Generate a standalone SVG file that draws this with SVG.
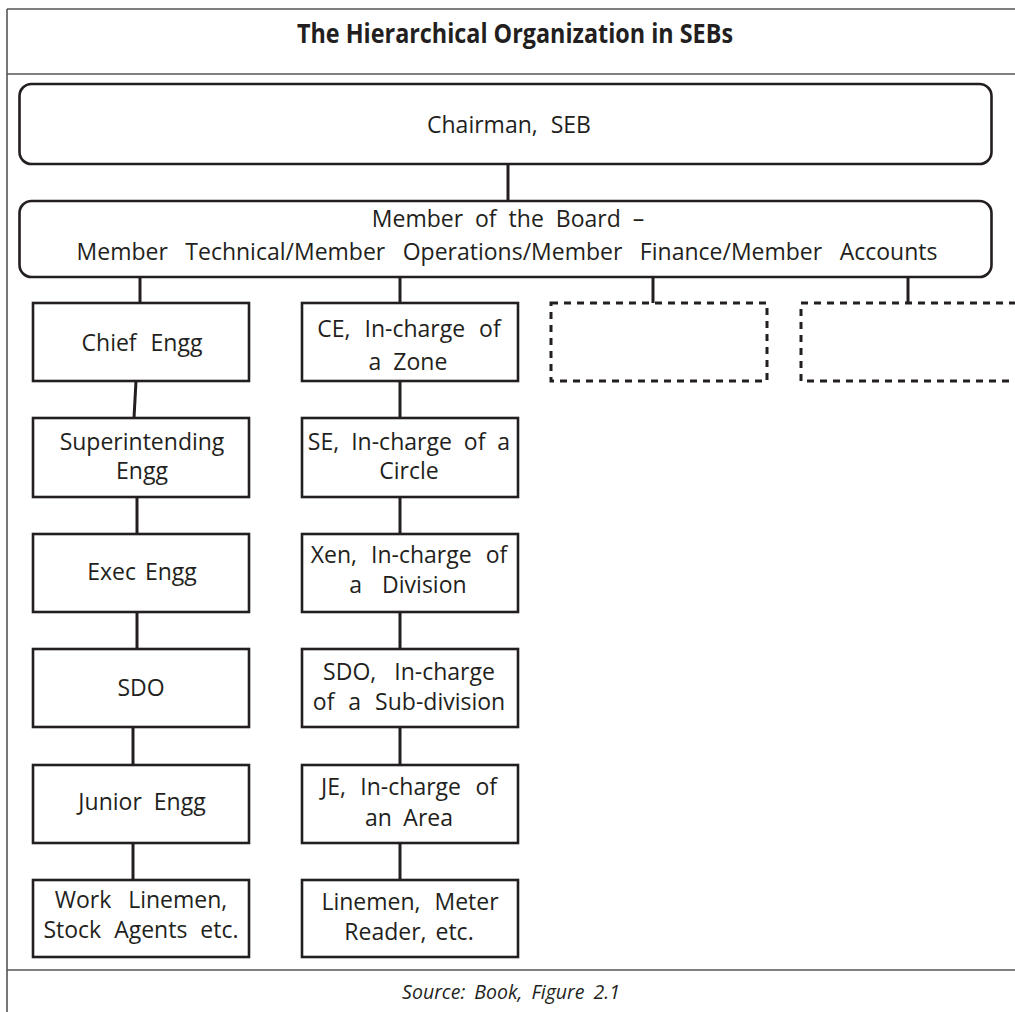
<svg xmlns="http://www.w3.org/2000/svg" width="1015" height="1012" viewBox="0 0 1015 1012">
<defs>
<style>
.frame{stroke:#555;stroke-width:1.6;fill:none}
.box{fill:#fff;stroke:#231f20;stroke-width:2.6}
.dash{fill:none;stroke:#231f20;stroke-width:3;stroke-dasharray:7 6}
.conn line{stroke:#231f20;stroke-width:3}
text{font-family:"Open Sans","Noto Sans",sans-serif;font-size:23px;fill:#231f20;text-anchor:middle}
.title{font-weight:bold;font-size:26px}
.src{font-style:italic;font-size:19.5px}
</style>
</defs>
<rect width="1015" height="1012" fill="#fff"/>
<g id="frame">
<line class="frame" x1="7" y1="9" x2="1015" y2="9"/>
<line class="frame" x1="7" y1="9" x2="7" y2="1012"/>
<line class="frame" x1="7" y1="74" x2="1015" y2="74"/>
<line class="frame" x1="7" y1="970" x2="1015" y2="970"/>
</g>
<text id="title" class="title" x="515" y="43" textLength="436" lengthAdjust="spacingAndGlyphs">The Hierarchical Organization in SEBs</text>
<g class="conn" id="connectors">
<line x1="508" y1="164" x2="508" y2="201"/>
<line x1="140" y1="277" x2="140" y2="303"/>
<line x1="400" y1="277" x2="400" y2="303"/>
<line x1="653" y1="277" x2="653" y2="303"/>
<line x1="908" y1="277" x2="908" y2="303"/>
<line x1="136" y1="381" x2="134" y2="418"/>
<line x1="137" y1="497" x2="137" y2="534"/>
<line x1="137" y1="612" x2="137" y2="649"/>
<line x1="133" y1="727" x2="133" y2="765"/>
<line x1="133" y1="843" x2="133" y2="880"/>
<line x1="400" y1="381" x2="400" y2="418"/>
<line x1="400" y1="497" x2="400" y2="534"/>
<line x1="400" y1="612" x2="400" y2="649"/>
<line x1="400" y1="727" x2="400" y2="765"/>
<line x1="400" y1="843" x2="400" y2="880"/>
</g>
<g id="chairman">
<rect class="box" x="19.5" y="84" width="972" height="80" rx="12"/>
<text x="509" y="133" style="word-spacing:7px">Chairman, SEB</text>
</g>
<g id="board">
<rect class="box" x="19.5" y="201" width="972" height="76" rx="12"/>
<text x="508" y="227" style="word-spacing:6px">Member of the Board –</text>
<text x="507" y="260" style="word-spacing:11.5px">Member Technical/Member Operations/Member Finance/Member Accounts</text>
</g>
<g id="chief-engg">
<rect class="box" x="33" y="303" width="216" height="78"/>
<text x="142" y="351" style="word-spacing:8px">Chief Engg</text>
</g>
<g id="superintending-engg">
<rect class="box" x="33" y="418" width="216" height="79"/>
<text x="142" y="450">Superintending</text>
<text x="142" y="479">Engg</text>
</g>
<g id="exec-engg">
<rect class="box" x="33" y="534" width="216" height="78"/>
<text x="142" y="580" style="word-spacing:3px">Exec Engg</text>
</g>
<g id="sdo">
<rect class="box" x="33" y="649" width="216" height="78"/>
<text x="141" y="696">SDO</text>
</g>
<g id="junior-engg">
<rect class="box" x="33" y="765" width="216" height="78"/>
<text x="142" y="810" style="word-spacing:6px">Junior Engg</text>
</g>
<g id="work-linemen">
<rect class="box" x="33" y="880" width="216" height="77"/>
<text x="141" y="908" style="word-spacing:11px">Work Linemen,</text>
<text x="141" y="938" style="word-spacing:7px">Stock Agents etc.</text>
</g>
<g id="ce-zone">
<rect class="box" x="302" y="303" width="216" height="78"/>
<text x="409" y="337" style="word-spacing:8px">CE, In-charge of</text>
<text x="408" y="370" style="word-spacing:6px">a Zone</text>
</g>
<g id="se-circle">
<rect class="box" x="302" y="418" width="216" height="79"/>
<text x="409" y="450" style="word-spacing:6px">SE, In-charge of a</text>
<text x="409" y="479">Circle</text>
</g>
<g id="xen-division">
<rect class="box" x="302" y="534" width="216" height="78"/>
<text x="409" y="563" style="word-spacing:8px">Xen, In-charge of</text>
<text x="408" y="593" style="word-spacing:14px">a Division</text>
</g>
<g id="sdo-subdivision">
<rect class="box" x="302" y="649" width="216" height="78"/>
<text x="409" y="680" style="word-spacing:12px">SDO, In-charge</text>
<text x="409" y="710" style="word-spacing:8px">of a Sub-division</text>
</g>
<g id="je-area">
<rect class="box" x="302" y="765" width="216" height="78"/>
<text x="409" y="795" style="word-spacing:8.5px">JE, In-charge of</text>
<text x="409" y="826" style="word-spacing:5.5px">an Area</text>
</g>
<g id="linemen-meter">
<rect class="box" x="302" y="880" width="216" height="77"/>
<text x="410" y="910" style="word-spacing:8px">Linemen, Meter</text>
<text x="409" y="940" style="word-spacing:3px">Reader, etc.</text>
</g>
<g id="dashed-1">
<rect class="dash" x="551" y="303" width="216" height="78"/>
</g>
<g id="dashed-2">
<path class="dash" d="M1016 303 H801 V381 H1016"/>
</g>
<text id="source" class="src" x="511" y="999" style="word-spacing:4px">Source: Book, Figure 2.1</text>
</svg>
